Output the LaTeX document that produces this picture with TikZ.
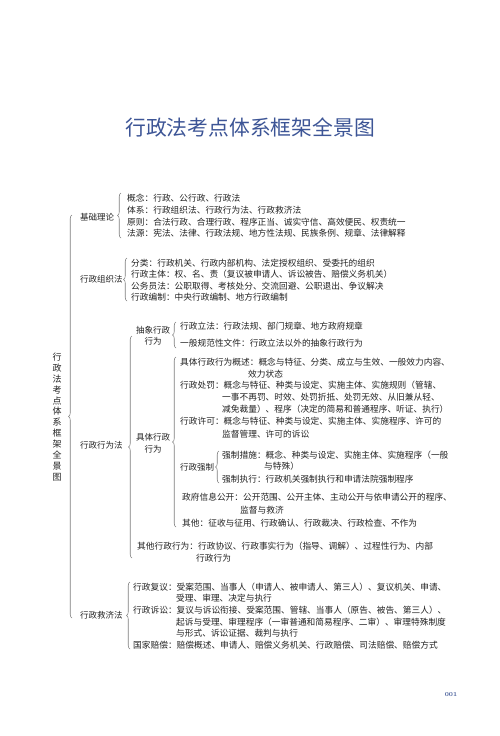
\documentclass[tikz,border=0pt]{standalone}
\usepackage{fontspec}
\newfontfamily\cjk{Noto Sans CJK SC}
\usetikzlibrary{decorations.pathreplacing}
\definecolor{txt}{HTML}{222222}
\definecolor{brc}{HTML}{7F7F7F}
\definecolor{ttl}{HTML}{3D5596}
\tikzset{
  ln/.style={anchor=west, inner sep=0pt, text height=0.88em, text depth=0.12em,
    font=\cjk\fontsize{8.7}{10}\selectfont, text=txt},
  lab/.style={anchor=west, inner sep=0pt, text height=0.88em, text depth=0.12em,
    font=\cjk\fontsize{8.5}{10}\selectfont, text=txt},
  lab2/.style={inner sep=0pt, align=center, font=\cjk\fontsize{8.5}{11.5}\selectfont, text=txt},
  brace/.style={draw=brc, line width=0.55pt, decorate, decoration={brace, amplitude=3.5pt}},
}
\begin{document}
\begin{tikzpicture}[x=1pt, y=-1pt]
\useasboundingbox[fill=white] (0,0) rectangle (500,736);

% title
\node[font=\cjk\fontsize{20.8}{24}\selectfont, text=ttl, inner sep=0pt] (title) at (250,128) {行政法考点体系框架全景图};

% vertical title
\node[inner sep=0pt, align=center, font=\cjk\fontsize{9}{10.9}\selectfont, text=txt] (vt) at (57,417)
  {行\\政\\法\\考\\点\\体\\系\\框\\架\\全\\景\\图};

% big brace
\coordinate (bigT) at (72,215);
\coordinate (bigB) at (72,618);
\draw[brace] (bigB) -- (bigT);

% ---------- group 1
\node[lab] (g1) at (80,217) {基础理论};
\coordinate (g1T) at (121,193);
\coordinate (g1B) at (121,238);
\draw[brace] (g1B) -- (g1T);
\node[ln] (g1a) at (127,198) {概念：行政、公行政、行政法};
\node[ln] (g1b) at (127,210) {体系：行政组织法、行政行为法、行政救济法};
\node[ln] (g1c) at (127,222) {原则：合法行政、合理行政、程序正当、诚实守信、高效便民、权责统一};
\node[ln] (g1d) at (127,233) {法源：宪法、法律、行政法规、地方性法规、民族条例、规章、法律解释};

% ---------- group 2
\node[lab] (g2) at (80,279) {行政组织法};
\coordinate (g2T) at (127,258);
\coordinate (g2B) at (127,301);
\draw[brace] (g2B) -- (g2T);
\node[ln] (g2a) at (131,263) {分类：行政机关、行政内部机构、法定授权组织、受委托的组织};
\node[ln] (g2b) at (131,274) {行政主体：权、名、责（复议被申请人、诉讼被告、赔偿义务机关）};
\node[ln] (g2c) at (131,286) {公务员法：公职取得、考核处分、交流回避、公职退出、争议解决};
\node[ln] (g2d) at (131,297) {行政编制：中央行政编制、地方行政编制};

% ---------- group 3
\node[lab] (g3) at (80,445) {行政行为法};
\coordinate (g3T) at (132,336);
\coordinate (g3B) at (132,558);
\draw[brace] (g3B) -- (g3T);

% abstract
\node[lab2] (abs) at (153,336) {抽象行政\\行为};
\coordinate (absT) at (176,322);
\coordinate (absB) at (176,348);
\draw[brace] (absB) -- (absT);
\node[ln] (absa) at (180,326) {行政立法：行政法规、部门规章、地方政府规章};
\node[ln] (absb) at (180,343) {一般规范性文件：行政立法以外的抽象行政行为};

% concrete
\node[lab2] (con) at (153,443.5) {具体行政\\行为};
\coordinate (conT) at (176,357);
\coordinate (conB) at (176,527);
\draw[brace] (conB) -- (conT);
\node[ln] (cona1) at (180,362) {具体行政行为概述：概念与特征、分类、成立与生效、一般效力内容、};
\node[ln] (cona2) at (248,374) {效力状态};
\node[ln] (conb1) at (180,385) {行政处罚：概念与特征、种类与设定、实施主体、实施规则（管辖、};
\node[ln] (conb2) at (222,397) {一事不再罚、时效、处罚折抵、处罚无效、从旧兼从轻、};
\node[ln] (conb3) at (222,409) {减免裁量）、程序（决定的简易和普通程序、听证、执行）};
\node[ln] (conc1) at (180,421) {行政许可：概念与特征、种类与设定、实施主体、实施程序、许可的};
\node[ln] (conc2) at (222,434) {监督管理、许可的诉讼};
\node[lab] (qz) at (180,467) {行政强制};
\coordinate (qzT) at (219,451);
\coordinate (qzB) at (219,483);
\draw[brace] (qzB) -- (qzT);
\node[ln] (qza1) at (222,455) {强制措施：概念、种类与设定、实施主体、实施程序（一般};
\node[ln] (qza2) at (264,466) {与特殊）};
\node[ln] (qzb) at (222,479) {强制执行：行政机关强制执行和申请法院强制程序};
\node[ln] (cond1) at (182,497) {政府信息公开：公开范围、公开主体、主动公开与依申请公开的程序、};
\node[ln] (cond2) at (240,510) {监督与救济};
\node[ln] (cone) at (182,523) {其他：征收与征用、行政确认、行政裁决、行政检查、不作为};

% other
\node[ln] (oth1) at (137,546) {其他行政行为：行政协议、行政事实行为（指导、调解）、过程性行为、内部};
\node[ln] (oth2) at (196,558) {行政行为};

% ---------- group 4
\node[lab] (g4) at (80,615) {行政救济法};
\coordinate (g4T) at (130,582);
\coordinate (g4B) at (130,649);
\draw[brace] (g4B) -- (g4T);
\node[ln] (g4a1) at (133,587) {行政复议：受案范围、当事人（申请人、被申请人、第三人）、复议机关、申请、};
\node[ln] (g4a2) at (176,598) {受理、审理、决定与执行};
\node[ln] (g4b1) at (133,610) {行政诉讼：复议与诉讼衔接、受案范围、管辖、当事人（原告、被告、第三人）、};
\node[ln] (g4b2) at (176,622) {起诉与受理、审理程序（一审普通和简易程序、二审）、审理特殊制度};
\node[ln] (g4b3) at (176,633) {与形式、诉讼证据、裁判与执行};
\node[ln] (g4c) at (133,645) {国家赔偿：赔偿概述、申请人、赔偿义务机关、行政赔偿、司法赔偿、赔偿方式};

% page number
\node[font=\bfseries\fontsize{6}{7}\selectfont, text=ttl, inner sep=0pt] (pg) at (451,695) {001};
\end{tikzpicture}
\end{document}
